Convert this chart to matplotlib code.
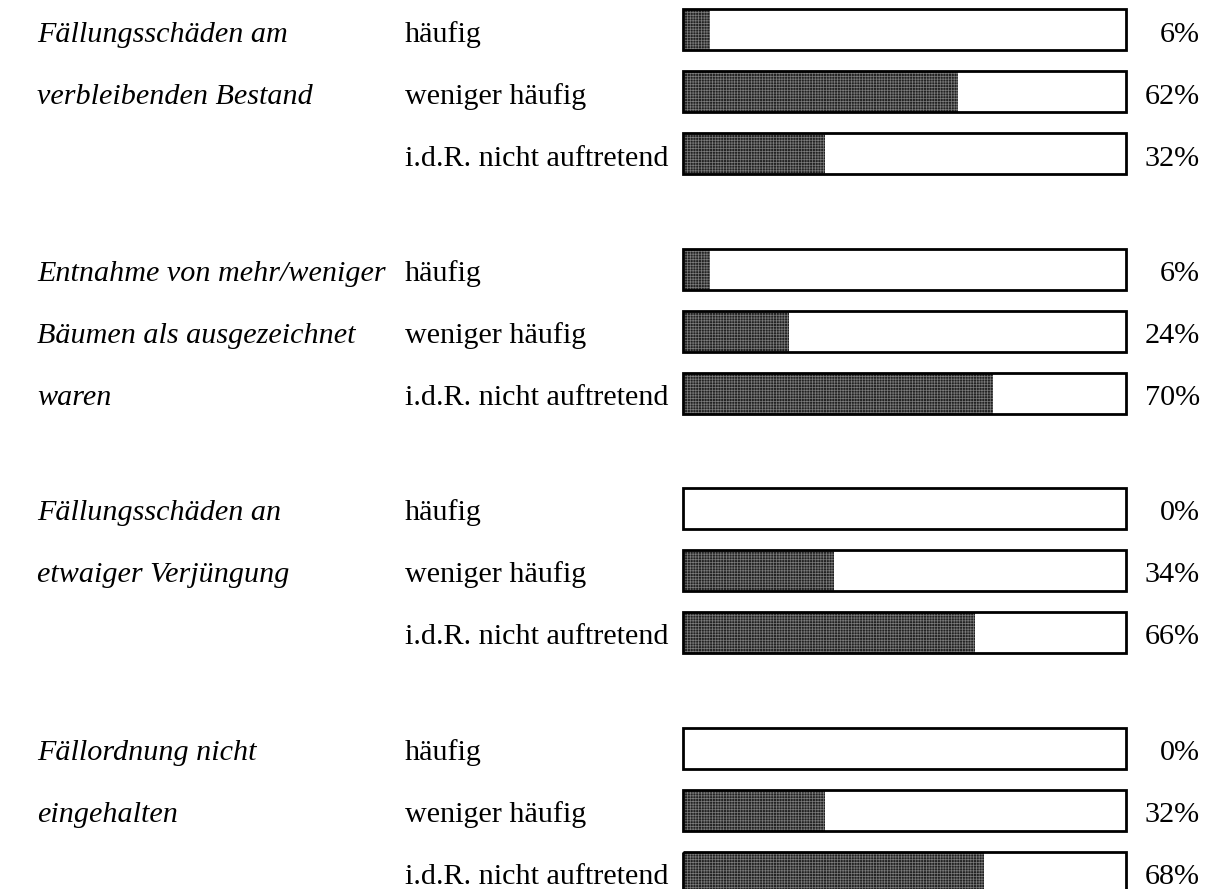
import matplotlib
matplotlib.use("Agg")
import matplotlib.pyplot as plt

# ---- data ----
categories = [
    ["Fällungsschäden am", "verbleibenden Bestand"],
    ["Entnahme von mehr/weniger", "Bäumen als ausgezeichnet", "waren"],
    ["Fällungsschäden an", "etwaiger Verjüngung"],
    ["Fällordnung nicht", "eingehalten"],
]
answers = ["häufig", "weniger häufig", "i.d.R. nicht auftretend"]
values = [
    [6, 62, 32],
    [6, 24, 70],
    [0, 34, 66],
    [0, 32, 68],
]

W, H = 1206, 889
plt.rcParams['hatch.color'] = '#7c7c7c'
plt.rcParams['hatch.linewidth'] = 0.5
SERIF = ['Liberation Serif', 'DejaVu Serif']
FS = 21.7

fig = plt.figure(figsize=(W / 100, H / 100), dpi=100)
fig.patch.set_facecolor('white')

# text axes in pixel coordinates
tax = fig.add_axes([0, 0, 1, 1])
tax.set_xlim(0, W)
tax.set_ylim(H, 0)
tax.axis('off')

# bar axes: percentage scale
bx0, bx1 = 683, 1126
bax = fig.add_axes([bx0 / W, 0, (bx1 - bx0) / W, 1])
bax.set_xlim(0, 100)
bax.set_ylim(H, 0)
bax.axis('off')

y0, row_step, group_step = 29.5, 62, 239.5
bar_h = 41
text_off = 12

for g, (cat_lines, vals) in enumerate(zip(categories, values)):
    for r in range(3):
        yc = y0 + g * group_step + r * row_step
        # white box
        bax.barh(yc, 100, height=bar_h, left=0, color='white',
                 edgecolor='none', zorder=1)
        # filled part
        if vals[r] > 0:
            bax.barh(yc, vals[r], height=bar_h, left=0, color='#222222',
                     hatch='++++++', linewidth=0, zorder=2)
        # outline
        outl = bax.barh(yc, 100, height=bar_h, left=0, facecolor='none',
                        edgecolor='black', linewidth=2.0, zorder=3)
        for p in outl:
            p.set_clip_on(False)
        yb = yc + text_off
        tax.text(405, yb, answers[r], fontsize=FS, family=SERIF,
                 ha='left', va='baseline')
        tax.text(1200, yb, f"{vals[r]}%", fontsize=FS, family=SERIF,
                 ha='right', va='baseline')
        if r < len(cat_lines):
            tax.text(37, yb, cat_lines[r], fontsize=FS, family=SERIF,
                     style='italic', ha='left', va='baseline')

fig.savefig('out.png', dpi=100, facecolor='white')
